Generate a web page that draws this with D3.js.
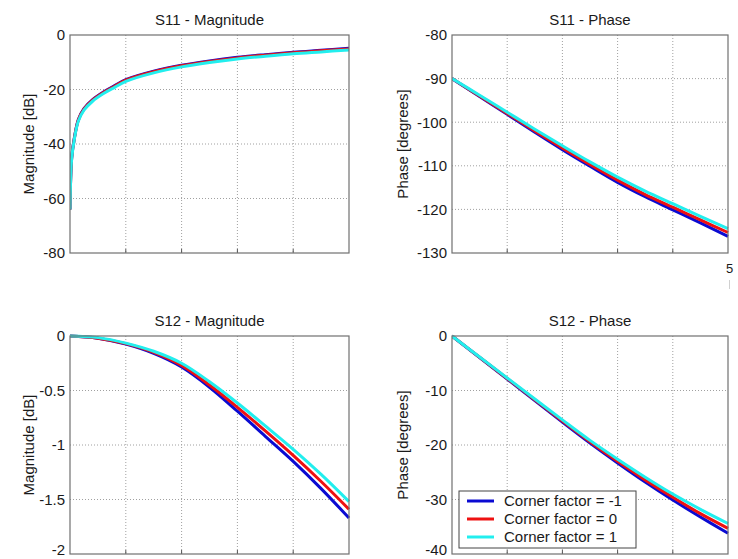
<!DOCTYPE html>
<html><head><meta charset="utf-8">
<script src="https://cdn.jsdelivr.net/npm/d3@7"></script>
<style>
html,body{margin:0;padding:0;background:#fff;}
svg{display:block;}
text{font-family:"Liberation Sans",Arial,Helvetica,sans-serif;fill:#1a1a1a;}
</style></head>
<body>
<svg id="c" width="738" height="559"></svg>
<script>
// ---- data ----
const seriesNames = ["Corner factor = -1", "Corner factor = 0", "Corner factor = 1"];
const seriesColors = ["#0a0ad2", "#ee1111", "#22eeee"];
const xTicks = [0, 1, 2, 3, 4, 5];

const s11MagX = [0, 0.03, 0.08, 0.15, 0.25, 0.4, 0.6, 0.8, 1, 1.5, 2, 2.5, 3, 3.5, 4, 4.5, 5];
const s11MagM1 = [-64, -45, -37.5, -31, -27, -23.8, -20.9, -18.6, -16.4, -13.3, -11.1, -9.5, -8.2, -7.2, -6.3, -5.6, -4.9];
const s11Mag0  = [-64, -45.2, -37.7, -31.2, -27.2, -24.0, -21.1, -18.8, -16.6, -13.5, -11.3, -9.7, -8.4, -7.4, -6.5, -5.8, -5.1];
const s11MagP1 = [-64, -45.5, -38, -31.6, -27.6, -24.4, -21.5, -19.2, -17.0, -13.9, -11.7, -10.1, -8.8, -7.8, -6.9, -6.2, -5.5];
const s11MagTicks = [0, -20, -40, -60, -80];

const phaseX = [0, 0.5, 1, 1.5, 2, 2.5, 3, 3.5, 4, 4.5, 5];
const s11PhM1 = [-90, -94.1, -98.2, -102.3, -106.3, -110.1, -113.8, -117.1, -120.1, -123.1, -126.2];
const s11Ph0  = [-90, -94.0, -98.0, -102.0, -105.9, -109.7, -113.3, -116.6, -119.5, -122.4, -125.3];
const s11PhP1 = [-90, -93.8, -97.7, -101.6, -105.4, -109.1, -112.6, -115.8, -118.7, -121.6, -124.4];
const s11PhTicks = [-80, -90, -100, -110, -120, -130];

const s12MagM1 = [0, -0.02, -0.075, -0.16, -0.285, -0.47, -0.69, -0.92, -1.15, -1.40, -1.67];
const s12Mag0  = [0, -0.02, -0.07, -0.15, -0.27, -0.45, -0.655, -0.87, -1.095, -1.335, -1.59];
const s12MagP1 = [0, -0.015, -0.065, -0.14, -0.25, -0.42, -0.615, -0.825, -1.04, -1.27, -1.52];
const s12MagTicks = [0, -0.5, -1, -1.5, -2];

const s12PhM1 = [0, -3.95, -7.9, -11.85, -15.8, -19.65, -23.3, -26.8, -30.1, -33.2, -36.2];
const s12Ph0  = [0, -3.9, -7.8, -11.7, -15.6, -19.4, -23.0, -26.4, -29.6, -32.6, -35.3];
const s12PhP1 = [0, -3.85, -7.7, -11.55, -15.4, -19.15, -22.6, -25.9, -29.0, -31.8, -34.4];
const s12PhTicks = [0, -10, -20, -30, -40];

// ---- layout ----
const svg = d3.select("#c");
const fmt = d => String(d);
const panels = [
  {title:"S11 - Magnitude", ylab:"Magnitude [dB]", x0:70, x1:349, y0:35, y1:253, dom:[-80,0], ticks:s11MagTicks, xs:s11MagX, ys:[s11MagM1,s11Mag0,s11MagP1], labX:34},
  {title:"S11 - Phase", ylab:"Phase [degrees]", x0:452, x1:728, y0:35, y1:253, dom:[-130,-80], ticks:s11PhTicks, xs:phaseX, ys:[s11PhM1,s11Ph0,s11PhP1], labX:408},
  {title:"S12 - Magnitude", ylab:"Magnitude [dB]", x0:70, x1:349, y0:336, y1:554, dom:[-2,0], ticks:s12MagTicks, xs:phaseX, ys:[s12MagM1,s12Mag0,s12MagP1], labX:34},
  {title:"S12 - Phase", ylab:"Phase [degrees]", x0:452, x1:728, y0:336, y1:554, dom:[-40,0], ticks:s12PhTicks, xs:phaseX, ys:[s12PhM1,s12Ph0,s12PhP1], labX:408}
];

panels.forEach((p, pi) => {
  const x = d3.scaleLinear().domain([0,5]).range([p.x0, p.x1]);
  const y = d3.scaleLinear().domain(p.dom).range([p.y1, p.y0]);
  const g = svg.append("g");
  g.append("rect").attr("x",p.x0).attr("y",p.y0).attr("width",p.x1-p.x0).attr("height",p.y1-p.y0).attr("fill","#fff");
  // grid
  g.append("g").selectAll("line").data(xTicks.slice(1,-1)).join("line")
    .attr("x1",d=>x(d)).attr("x2",d=>x(d)).attr("y1",p.y0).attr("y2",p.y1)
    .attr("stroke","#a0a0a0").attr("stroke-width",1).attr("stroke-dasharray","1,2");
  g.append("g").selectAll("line").data(p.ticks.filter(t=>t!==p.dom[0]&&t!==p.dom[1])).join("line")
    .attr("x1",p.x0).attr("x2",p.x1).attr("y1",d=>y(d)).attr("y2",d=>y(d))
    .attr("stroke","#a0a0a0").attr("stroke-width",1).attr("stroke-dasharray","1,2");
  // inner ticks
  g.append("g").selectAll("line").data(xTicks.slice(1,-1)).join("line")
    .attr("x1",d=>x(d)).attr("x2",d=>x(d)).attr("y1",p.y1).attr("y2",p.y1-4)
    .attr("stroke","#555");
  // curves
  const line = d3.line().x(d=>x(d[0])).y(d=>y(d[1])).curve(d3.curveCatmullRom.alpha(0.5));
  const clipId = "clip"+pi;
  svg.append("clipPath").attr("id",clipId).append("rect")
    .attr("x",p.x0).attr("y",p.y0-2).attr("width",p.x1-p.x0+2).attr("height",p.y1-p.y0+4);
  p.ys.forEach((vals, si) => {
    g.append("path").datum(p.xs.map((xv,i)=>[xv, vals[i]]))
      .attr("d", line).attr("fill","none").attr("stroke",seriesColors[si])
      .attr("stroke-width",3).attr("stroke-linejoin","round").attr("clip-path","url(#"+clipId+")");
  });
  // box
  g.append("rect").attr("x",p.x0).attr("y",p.y0).attr("width",p.x1-p.x0).attr("height",p.y1-p.y0)
    .attr("fill","none").attr("stroke","#707070").attr("stroke-width",1.2);
  // y axis tick labels
  const ax = d3.axisLeft(y).tickValues(p.ticks).tickFormat(fmt).tickSize(0).tickPadding(5);
  const axg = g.append("g").attr("transform",`translate(${p.x0},0)`).call(ax);
  axg.select(".domain").remove();
  axg.selectAll("text").attr("font-size",15).attr("fill","#1a1a1a")
    .attr("font-family","Liberation Sans, Arial, sans-serif")
    .attr("dy", d => (p.y1 > 500 && d === p.dom[0]) ? "0.05em" : "0.32em");
  // title
  g.append("text").attr("x",(p.x0+p.x1)/2).attr("y",p.y0-10).attr("text-anchor","middle")
    .attr("font-size",15).text(p.title);
  // y label
  g.append("text").attr("transform",`translate(${p.labX},${(p.y0+p.y1)/2}) rotate(-90)`)
    .attr("text-anchor","middle").attr("font-size",15).text(p.ylab);
});

// stray clipped tick label fragment at right
svg.append("text").attr("x",726).attr("y",273).attr("font-size",13).attr("fill","#8a8a8a").text("5");
svg.append("line").attr("x1",729.5).attr("x2",729.5).attr("y1",280).attr("y2",289).attr("stroke","#d0d0d0");

// legend
const lg = svg.append("g");
lg.append("rect").attr("x",459).attr("y",491).attr("width",177).attr("height",57)
  .attr("fill","#fff").attr("stroke","#444").attr("stroke-width",1);
seriesNames.forEach((n,i)=>{
  const yy = 501 + i*18;
  lg.append("line").attr("x1",467).attr("x2",494).attr("y1",yy).attr("y2",yy)
    .attr("stroke",seriesColors[i]).attr("stroke-width",3);
  lg.append("text").attr("x",504).attr("y",yy+5).attr("font-size",15).text(n);
});
</script>
</body></html>
